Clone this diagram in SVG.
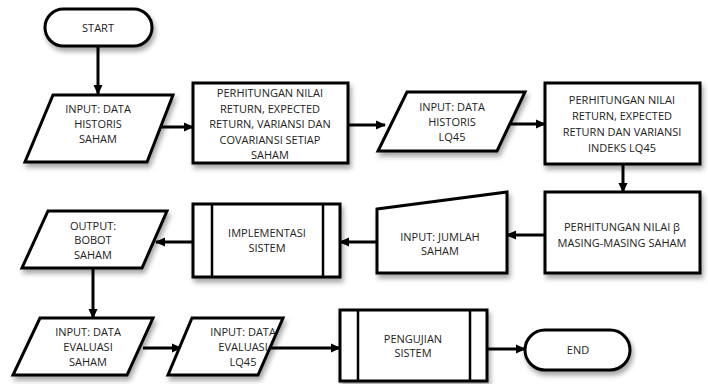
<svg xmlns="http://www.w3.org/2000/svg" width="708" height="384" viewBox="0 0 708 384">
<defs>
<filter id="sh" x="-20%" y="-20%" width="140%" height="160%">
<feDropShadow dx="2" dy="4" stdDeviation="2.5" flood-color="#000" flood-opacity="0.35"/>
</filter>
<marker id="ah" markerUnits="userSpaceOnUse" markerWidth="10" markerHeight="10" viewBox="0 0 10 10" refX="9" refY="5" orient="auto">
<path d="M0,0.5 L10,5 L0,9.5 Z" fill="#000"/>
</marker>
<style>
.s{fill:#fff;stroke:#000;stroke-width:3;filter:url(#sh)}
.l{fill:none;stroke:#000;stroke-width:2.5}
.c{fill:none;stroke:#000;stroke-width:3;marker-end:url(#ah)}
text{font-family:"Open Sans","Liberation Sans",sans-serif;font-size:11px;fill:#222;text-anchor:middle}
</style>
</defs>
<rect width="708" height="384" fill="#fff"/>
<g id="connectors">
<line class="c" x1="98" y1="46" x2="98" y2="94"/>
<line class="c" x1="160" y1="127" x2="193" y2="127"/>
<line class="c" x1="348" y1="125" x2="385" y2="125"/>
<line class="c" x1="511" y1="124" x2="545" y2="124"/>
<line class="c" x1="623" y1="164" x2="623" y2="192"/>
<line class="c" x1="545" y1="235" x2="507" y2="235"/>
<line class="c" x1="377" y1="242" x2="340" y2="242"/>
<line class="c" x1="193" y1="242" x2="156" y2="242"/>
<line class="c" x1="93" y1="268" x2="93" y2="318"/>
<line class="c" x1="143" y1="348" x2="181" y2="348"/>
<line class="c" x1="270" y1="348" x2="340" y2="348"/>
<line class="c" x1="487" y1="349" x2="525" y2="349"/>
</g>
<g id="start">
<rect class="s" x="45" y="9" width="107" height="37" rx="18.5"/>
<text x="98" y="32">START</text>
</g>
<g id="input-historis-saham">
<polygon class="s" points="53,95 173,95 147,162 25,162"/>
<text x="98" y="113">INPUT: DATA</text>
<text x="98" y="128">HISTORIS</text>
<text x="98" y="143">SAHAM</text>
</g>
<g id="perhitungan-saham">
<rect class="s" x="193" y="83" width="155" height="80"/>
<text x="270" y="97">PERHITUNGAN NILAI</text>
<text x="270" y="112.5">RETURN, EXPECTED</text>
<text x="270" y="128">RETURN, VARIANSI DAN</text>
<text x="270" y="143.5">COVARIANSI SETIAP</text>
<text x="270" y="159">SAHAM</text>
</g>
<g id="input-historis-lq45">
<polygon class="s" points="407,92 525,92 497,151 378,151"/>
<text x="452" y="111">INPUT: DATA</text>
<text x="452" y="126">HISTORIS</text>
<text x="452" y="141">LQ45</text>
</g>
<g id="perhitungan-lq45">
<rect class="s" x="545" y="83" width="155" height="81"/>
<text x="622" y="104">PERHITUNGAN NILAI</text>
<text x="622" y="120">RETURN, EXPECTED</text>
<text x="622" y="136">RETURN DAN VARIANSI</text>
<text x="622" y="152">INDEKS LQ45</text>
</g>
<g id="perhitungan-beta">
<rect class="s" x="545" y="192" width="155" height="81"/>
<text x="622" y="231">PERHITUNGAN NILAI β</text>
<text x="622" y="247">MASING-MASING  SAHAM</text>
</g>
<g id="input-jumlah">
<polygon class="s" points="377,209 507,192 507,273 377,273"/>
<text x="440" y="241">INPUT: JUMLAH</text>
<text x="440" y="255">SAHAM</text>
</g>
<g id="implementasi">
<rect class="s" x="193" y="204" width="147" height="73"/>
<line class="l" x1="212" y1="204" x2="212" y2="277"/>
<line class="l" x1="323" y1="204" x2="323" y2="277"/>
<text x="267" y="237">IMPLEMENTASI</text>
<text x="267" y="252">SISTEM</text>
</g>
<g id="output-bobot">
<polygon class="s" points="48,211 167,211 142,268 22,268"/>
<text x="93" y="230">OUTPUT:</text>
<text x="93" y="244">BOBOT</text>
<text x="93" y="259">SAHAM</text>
</g>
<g id="input-evaluasi-saham">
<polygon class="s" points="40,318 153,318 127,375 13,375"/>
<text x="88" y="336">INPUT: DATA</text>
<text x="88" y="351">EVALUASI</text>
<text x="88" y="366">SAHAM</text>
</g>
<g id="input-evaluasi-lq45">
<polygon class="s" points="192,318 283,318 258,375 168,375"/>
<text x="243" y="336">INPUT: DATA</text>
<text x="243" y="351">EVALUASI</text>
<text x="243" y="366">LQ45</text>
</g>
<g id="pengujian">
<rect class="s" x="340" y="310" width="147" height="71"/>
<line class="l" x1="358" y1="310" x2="358" y2="381"/>
<line class="l" x1="470" y1="310" x2="470" y2="381"/>
<text x="413" y="343">PENGUJIAN</text>
<text x="413" y="357">SISTEM</text>
</g>
<g id="end">
<rect class="s" x="525" y="330" width="105" height="40" rx="20"/>
<text x="578" y="354">END</text>
</g>
</svg>
